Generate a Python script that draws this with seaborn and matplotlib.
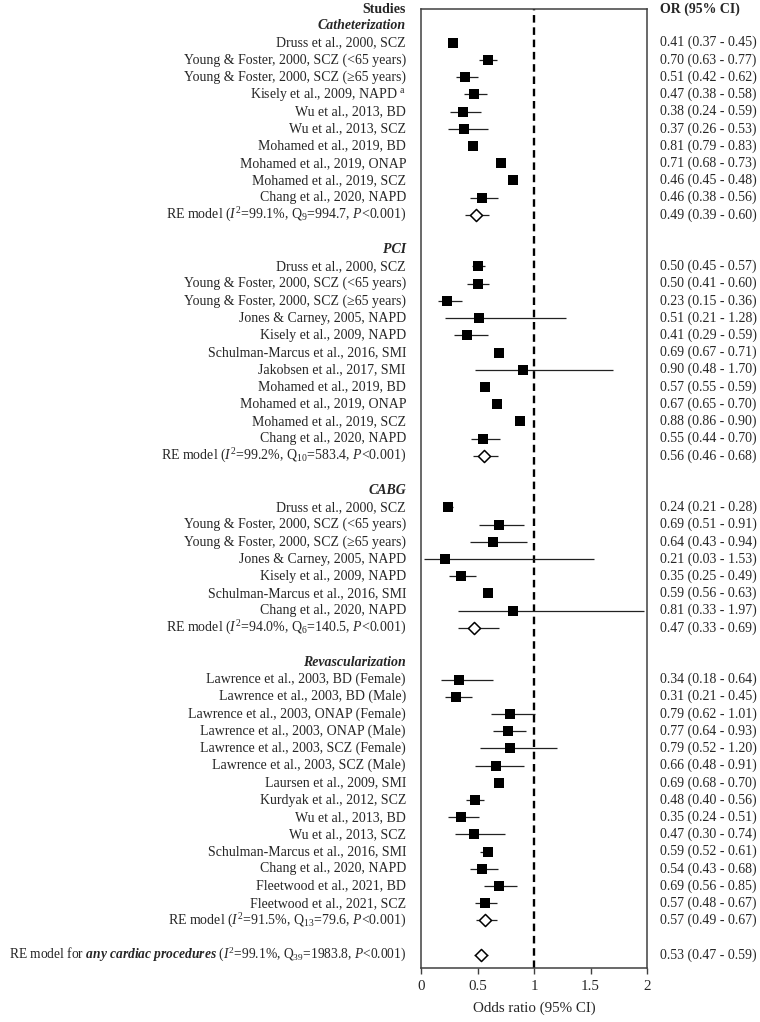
import numpy as np
import pandas as pd
import matplotlib
matplotlib.use("Agg")
import matplotlib.pyplot as plt
import seaborn as sns

sns.set_theme(style="white")
plt.rcParams["font.family"] = ["Liberation Serif", "DejaVu Serif"]
plt.rcParams["mathtext.fontset"] = "custom"
plt.rcParams["mathtext.rm"] = "Liberation Serif"
plt.rcParams["mathtext.it"] = "Liberation Serif:italic"
plt.rcParams["mathtext.bf"] = "Liberation Serif:italic:bold"

## Datos
cath_labels = ["Druss et al., 2000, SCZ", "Young & Foster, 2000, SCZ (<65 years)",
               "Young & Foster, 2000, SCZ (≥65 years)", r"Kisely et al., 2009, NAPD $^{\mathrm{a}}$",
               "Wu et al., 2013, BD", "Wu et al., 2013, SCZ", "Mohamed et al., 2019, BD",
               "Mohamed et al., 2019, ONAP", "Mohamed et al., 2019, SCZ", "Chang et al., 2020, NAPD",
               r"RE model ($\mathit{I}^{2}$=99.1%, Q$_{9}$=994.7, $\mathit{P}$<0.001)"]
cath_or = ["0.41 (0.37 - 0.45)", "0.70 (0.63 - 0.77)", "0.51 (0.42 - 0.62)", "0.47 (0.38 - 0.58)",
           "0.38 (0.24 - 0.59)", "0.37 (0.26 - 0.53)", "0.81 (0.79 - 0.83)", "0.71 (0.68 - 0.73)",
           "0.46 (0.45 - 0.48)", "0.46 (0.38 - 0.56)", "0.49 (0.39 - 0.60)"]
cath_est = [0.28, 0.59, 0.39, 0.47, 0.37, 0.38, 0.46, 0.71, 0.81, 0.54, 0.49]
cath_lo = [0.26, 0.51, 0.31, 0.38, 0.26, 0.24, 0.45, 0.68, 0.79, 0.43, 0.39]
cath_hi = [0.30, 0.67, 0.50, 0.58, 0.53, 0.59, 0.48, 0.73, 0.83, 0.68, 0.60]

pci_labels = ["Druss et al., 2000, SCZ", "Young & Foster, 2000, SCZ (<65 years)",
              "Young & Foster, 2000, SCZ (≥65 years)", "Jones & Carney, 2005, NAPD",
              "Kisely et al., 2009, NAPD", "Schulman-Marcus et al., 2016, SMI", "Jakobsen et al., 2017, SMI",
              "Mohamed et al., 2019, BD", "Mohamed et al., 2019, ONAP", "Mohamed et al., 2019, SCZ",
              "Chang et al., 2020, NAPD",
              r"RE model ($\mathit{I}^{2}$=99.2%, Q$_{10}$=583.4, $\mathit{P}$<0.001)"]
pci_or = ["0.50 (0.45 - 0.57)", "0.50 (0.41 - 0.60)", "0.23 (0.15 - 0.36)", "0.51 (0.21 - 1.28)",
          "0.41 (0.29 - 0.59)", "0.69 (0.67 - 0.71)", "0.90 (0.48 - 1.70)", "0.57 (0.55 - 0.59)",
          "0.67 (0.65 - 0.70)", "0.88 (0.86 - 0.90)", "0.55 (0.44 - 0.70)", "0.56 (0.46 - 0.68)"]
pci_est = [0.50, 0.50, 0.23, 0.51, 0.41, 0.69, 0.90, 0.57, 0.67, 0.88, 0.55, 0.56]
pci_lo = [0.45, 0.41, 0.15, 0.21, 0.29, 0.67, 0.48, 0.55, 0.65, 0.86, 0.44, 0.46]
pci_hi = [0.57, 0.60, 0.36, 1.28, 0.59, 0.71, 1.70, 0.59, 0.70, 0.90, 0.70, 0.68]

cabg_labels = ["Druss et al., 2000, SCZ", "Young & Foster, 2000, SCZ (<65 years)",
               "Young & Foster, 2000, SCZ (≥65 years)", "Jones & Carney, 2005, NAPD",
               "Kisely et al., 2009, NAPD", "Schulman-Marcus et al., 2016, SMI", "Chang et al., 2020, NAPD",
               r"RE model ($\mathit{I}^{2}$=94.0%, Q$_{6}$=140.5, $\mathit{P}$<0.001)"]
cabg_or = ["0.24 (0.21 - 0.28)", "0.69 (0.51 - 0.91)", "0.64 (0.43 - 0.94)", "0.21 (0.03 - 1.53)",
           "0.35 (0.25 - 0.49)", "0.59 (0.56 - 0.63)", "0.81 (0.33 - 1.97)", "0.47 (0.33 - 0.69)"]
cabg_est = [0.24, 0.69, 0.64, 0.21, 0.35, 0.59, 0.81, 0.47]
cabg_lo = [0.21, 0.51, 0.43, 0.03, 0.25, 0.56, 0.33, 0.33]
cabg_hi = [0.28, 0.91, 0.94, 1.53, 0.49, 0.63, 1.97, 0.69]

revasc_labels = ["Lawrence et al., 2003, BD (Female)", "Lawrence et al., 2003, BD (Male)",
                 "Lawrence et al., 2003, ONAP (Female)", "Lawrence et al., 2003, ONAP (Male)",
                 "Lawrence et al., 2003, SCZ (Female)", "Lawrence et al., 2003, SCZ (Male)",
                 "Laursen et al., 2009, SMI", "Kurdyak et al., 2012, SCZ", "Wu et al., 2013, BD",
                 "Wu et al., 2013, SCZ", "Schulman-Marcus et al., 2016, SMI", "Chang et al., 2020, NAPD",
                 "Fleetwood et al., 2021, BD", "Fleetwood et al., 2021, SCZ",
                 r"RE model ($\mathit{I}^{2}$=91.5%, Q$_{13}$=79.6, $\mathit{P}$<0.001)"]
revasc_or = ["0.34 (0.18 - 0.64)", "0.31 (0.21 - 0.45)", "0.79 (0.62 - 1.01)", "0.77 (0.64 - 0.93)",
             "0.79 (0.52 - 1.20)", "0.66 (0.48 - 0.91)", "0.69 (0.68 - 0.70)", "0.48 (0.40 - 0.56)",
             "0.35 (0.24 - 0.51)", "0.47 (0.30 - 0.74)", "0.59 (0.52 - 0.61)", "0.54 (0.43 - 0.68)",
             "0.69 (0.56 - 0.85)", "0.57 (0.48 - 0.67)", "0.57 (0.49 - 0.67)"]
revasc_est = [0.34, 0.31, 0.79, 0.77, 0.79, 0.66, 0.69, 0.48, 0.35, 0.47, 0.59, 0.54, 0.69, 0.57, 0.57]
revasc_lo = [0.18, 0.21, 0.62, 0.64, 0.52, 0.48, 0.68, 0.40, 0.24, 0.30, 0.52, 0.43, 0.56, 0.48, 0.49]
revasc_hi = [0.64, 0.45, 1.01, 0.93, 1.20, 0.91, 0.70, 0.56, 0.51, 0.74, 0.61, 0.68, 0.85, 0.67, 0.67]

overall_label = (r"RE model for $\mathbf{any\ cardiac\ procedures}$ "
                 r"($\mathit{I}^{2}$=99.1%, Q$_{39}$=1983.8, $\mathit{P}$<0.001)")
overall_or = "0.53 (0.47 - 0.59)"
overall_est, overall_lo, overall_hi = 0.53, 0.47, 0.59

sections = [("Catheterization", cath_labels, cath_or, cath_est, cath_lo, cath_hi),
            ("PCI", pci_labels, pci_or, pci_est, pci_lo, pci_hi),
            ("CABG", cabg_labels, cabg_or, cabg_est, cabg_lo, cabg_hi),
            ("Revascularization", revasc_labels, revasc_or, revasc_est, revasc_lo, revasc_hi)]

## Construir tabla de filas
rows = []
headers = []
r = 1
for title, labels, ors, est, lo, hi in sections:
    headers.append((title, r))
    r += 1
    for i in range(len(labels)):
        rows.append({"label": labels[i], "or": ors[i], "est": est[i], "lo": lo[i], "hi": hi[i],
                     "y": r, "tipo": "RE" if i == len(labels) - 1 else "study"})
        r += 1
    r += 1
rows.append({"label": overall_label, "or": overall_or, "est": overall_est, "lo": overall_lo,
             "hi": overall_hi, "y": r, "tipo": "RE"})
df = pd.DataFrame(rows)

## Grafico
fig = plt.figure(figsize=(7.6, 10.22), dpi=100)
ax = fig.add_axes([421 / 760, 1 - 968 / 1022, 226 / 760, 959 / 1022])

ax.hlines(df["y"], df["lo"], df["hi"], color="#222222", lw=0.9, zorder=2)
ax.axvline(1, color="black", lw=1.7, dashes=(3.2, 2.0), zorder=1)
sns.scatterplot(data=df[df["tipo"] == "study"], x="est", y="y", marker="s", s=44,
                color="black", linewidth=0, legend=False, ax=ax, zorder=3)
sns.scatterplot(data=df[df["tipo"] == "RE"], x="est", y="y", marker="D", s=38,
                color="white", edgecolor="black", linewidth=1.1, legend=False, ax=ax, zorder=3)

ax.set_xlim(0, 2)
ax.set_ylim(55.76, 0.04)
ax.set_yticks([])
ax.set_xticks([0, 0.5, 1, 1.5, 2])
ax.set_xticklabels(["0", "0.5", "1", "1.5", "2"], fontsize=10.8)
ax.tick_params(axis="x", bottom=True, direction="out", length=4, width=1, color="#404040", pad=5)
ax.set_ylabel("")
ax.set_xlabel("Odds ratio (95% CI)", fontsize=10.8, labelpad=6)
for sp in ax.spines.values():
    sp.set_visible(True)
    sp.set_color("#404040")
    sp.set_linewidth(1.1)

trans = ax.get_yaxis_transform()
xl = -15 / 226
xr = 239 / 226
fs = 10
ax.text(xl, 0.05, "Studies", transform=trans, ha="right", va="center", fontsize=fs,
        fontweight="bold", clip_on=False)
ax.text(xr, 0.05, "OR (95% CI)", transform=trans, ha="left", va="center", fontsize=fs,
        fontweight="bold", clip_on=False)
for title, y in headers:
    ax.text(xl, y, title, transform=trans, ha="right", va="center", fontsize=fs,
            fontweight="bold", fontstyle="italic", clip_on=False)
for _, row in df.iterrows():
    # la etiqueta global es mas larga: un poco mas pequena para que quepa
    size = 9.75 if row["label"] == overall_label else fs
    ax.text(xl, row["y"], row["label"], transform=trans, ha="right", va="center", fontsize=size,
            clip_on=False)
    ax.text(xr, row["y"], row["or"], transform=trans, ha="left", va="center", fontsize=fs,
            clip_on=False)

fig.savefig("out.png", dpi=100)
